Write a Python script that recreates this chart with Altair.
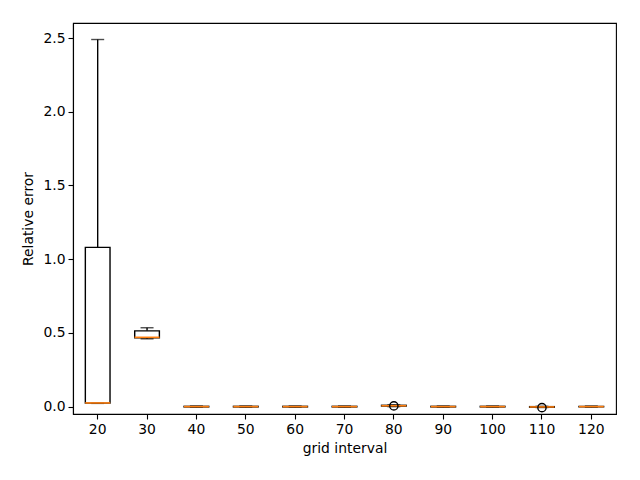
import altair as alt
import pandas as pd

intervals = [20, 30, 40, 50, 60, 70, 80, 90, 100, 110, 120]
whisk_lo = [0.022, 0.460, -0.004, -0.004, -0.004, -0.004, 0.000, -0.004, -0.004, -0.006, -0.004]
q1 = [0.024, 0.466, -0.002, -0.002, -0.002, -0.002, 0.004, -0.002, -0.002, -0.004, -0.002]
median = [0.025, 0.470, 0.000, 0.000, 0.000, 0.000, 0.006, 0.000, 0.000, -0.002, 0.000]
q3 = [1.080, 0.514, 0.002, 0.002, 0.002, 0.002, 0.009, 0.002, 0.002, 0.000, 0.002]
whisk_hi = [2.490, 0.535, 0.004, 0.004, 0.004, 0.004, 0.012, 0.004, 0.004, 0.002, 0.004]

outlier_x = [80, 110]
outlier_y = [0.005, -0.007]

df = pd.DataFrame({
    "interval": [str(v) for v in intervals],
    "lo": whisk_lo, "q1": q1, "med": median, "q3": q3, "hi": whisk_hi,
})
out = pd.DataFrame({"interval": [str(v) for v in outlier_x], "y": outlier_y})

order = [str(v) for v in intervals]
xenc = alt.X("interval:N", sort=order, title="grid interval",
             scale=alt.Scale(paddingInner=0.5, paddingOuter=0.25),
             axis=alt.Axis(labelAngle=0, titlePadding=6))
yscale = alt.Scale(domain=[-0.05, 2.602], nice=False, zero=False)
yaxis = alt.Axis(values=[0, 0.5, 1.0, 1.5, 2.0, 2.5], format=".1f", titlePadding=7)

LW = 1.4
base = alt.Chart(df)

wl = base.mark_rule(color="black", strokeWidth=LW).encode(
    x=xenc, y=alt.Y("lo:Q", scale=yscale, axis=yaxis, title="Relative error"), y2="q1:Q")
wh = base.mark_rule(color="black", strokeWidth=LW).encode(
    x=xenc, y=alt.Y("q3:Q", scale=yscale), y2="hi:Q")
box = base.mark_bar(fill="white", stroke="black", strokeWidth=LW).encode(
    x=xenc, y=alt.Y("q1:Q", scale=yscale), y2="q3:Q")
caplo = base.mark_tick(color="black", thickness=LW, size=13, orient="horizontal").encode(
    x=xenc, y=alt.Y("lo:Q", scale=yscale))
caphi = base.mark_tick(color="black", thickness=LW, size=13, orient="horizontal").encode(
    x=xenc, y=alt.Y("hi:Q", scale=yscale))
med = base.mark_tick(color="#ff7f0e", thickness=1.6, size=25, orient="horizontal", opacity=1).encode(
    x=xenc, y=alt.Y("med:Q", scale=yscale))
pts = alt.Chart(out).mark_point(shape="circle", filled=False, color="black", size=68,
                                strokeWidth=LW, opacity=1).encode(
    x=xenc, y=alt.Y("y:Q", scale=yscale))

chart = alt.layer(wl, wh, box, caplo, caphi, med, pts).properties(
    width=543, height=391,
    autosize=alt.AutoSizeParams(type="none"),
    padding={"left": 65, "top": 15, "right": 16, "bottom": 58},
).configure_view(
    stroke="black", strokeWidth=1.1
).configure_axis(
    grid=False, domainColor="black", tickColor="black", tickSize=5,
    domainWidth=1.1, tickWidth=1.1,
    labelFont="DejaVu Sans", titleFont="DejaVu Sans",
    labelFontSize=13.9, titleFontSize=13.9, titleFontWeight="normal",
    labelColor="black", titleColor="black", labelPadding=3,
)

chart.save("out.html", embed_options={"renderer": "svg", "actions": False})
